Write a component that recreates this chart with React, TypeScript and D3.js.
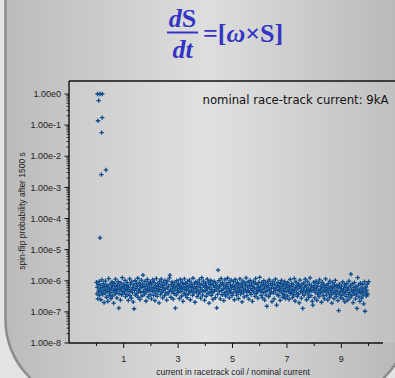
import React from "react";
import * as d3 from "d3";

const W = 395;
const H = 378;

// Tick values
const xMajorTicks = [1, 3, 5, 7, 9];
const xMinorTicks = [0, 2, 4, 6, 8, 10];
const yTickExponents = [0, -1, -2, -3, -4, -5, -6, -7, -8];

// Early (high spin-flip) points: [current, log10 probability]
const highPoints: [number, number][] = [
  [0.04, 0], [0.13, 0], [0.21, 0],
  [0.08, -0.21], [0.055, -0.86], [0.21, -0.76], [0.19, -1.24],
  [0.35, -2.44], [0.18, -2.59], [0.13, -4.62],
];

// Bulk points, [current, log10 probability]
const bulk0: [number, number][] = [
  [0.00,-6.05],[0.02,-6.42],[0.03,-6.21],[0.05,-6.58],[0.06,-6.12],[0.08,-6.33],[0.10,-6.02],[0.11,-6.47],[0.13,-6.26],[0.15,-6.15],
  [0.16,-6.61],[0.18,-6.37],[0.20,-5.97],[0.21,-6.22],[0.23,-6.44],[0.25,-6.09],[0.27,-6.31],[0.28,-6.70],[0.30,-6.18],[0.32,-6.40],
  [0.33,-6.01],[0.35,-6.27],[0.37,-6.53],[0.38,-6.14],[0.40,-6.35],[0.42,-6.66],[0.43,-6.20],[0.45,-5.93],[0.47,-6.46],[0.48,-6.29],
  [0.50,-6.11],[0.52,-6.38],[0.53,-6.57],[0.55,-6.24],[0.57,-6.04],[0.58,-6.49],[0.60,-6.16],[0.62,-6.32],[0.63,-6.72],[0.65,-6.08],
  [0.67,-6.28],[0.68,-6.43],[0.70,-5.95],[0.72,-6.19],[0.73,-6.36],[0.75,-6.55],[0.77,-6.13],[0.78,-6.26],[0.80,-6.03],[0.82,-6.88],
  [0.83,-6.41],[0.85,-6.17],[0.87,-6.30],[0.88,-6.62],[0.90,-6.07],[0.92,-6.23],[0.93,-6.45],[0.95,-5.90],[0.97,-6.34],[0.98,-6.19],
];
const bulk1: [number, number][] = [
  [1.00,-6.12],[1.02,-6.39],[1.03,-6.24],[1.05,-5.99],[1.07,-6.51],[1.08,-6.30],[1.10,-6.16],[1.12,-6.44],[1.13,-6.06],[1.15,-6.27],
  [1.17,-6.63],[1.18,-6.20],[1.20,-6.35],[1.22,-5.94],[1.23,-6.48],[1.25,-6.11],[1.27,-6.29],[1.28,-6.56],[1.30,-6.03],[1.32,-6.38],
  [1.33,-6.22],[1.35,-6.68],[1.37,-6.14],[1.38,-6.90],[1.40,-6.31],[1.42,-6.00],[1.43,-6.46],[1.45,-6.25],[1.47,-6.09],[1.48,-6.41],
  [1.50,-6.18],[1.52,-5.92],[1.53,-6.53],[1.55,-6.33],[1.57,-6.07],[1.58,-6.26],[1.60,-6.60],[1.62,-6.15],[1.63,-6.37],[1.65,-5.98],
  [1.67,-6.21],[1.68,-6.49],[1.70,-6.10],[1.71,-5.82],[1.73,-6.34],[1.75,-6.19],[1.77,-6.43],[1.78,-6.02],[1.80,-6.28],[1.82,-6.65],
  [1.83,-6.13],[1.85,-6.36],[1.87,-5.96],[1.88,-6.24],[1.90,-6.52],[1.92,-6.08],[1.93,-6.32],[1.95,-6.17],[1.97,-6.45],[1.98,-6.04],
];
const bulk2: [number, number][] = [
  [2.00,-6.27],[2.02,-6.58],[2.03,-6.11],[2.05,-6.35],[2.07,-5.97],[2.08,-6.22],[2.10,-6.47],[2.12,-6.05],[2.13,-6.30],[2.15,-6.64],
  [2.17,-6.16],[2.18,-6.40],[2.20,-5.93],[2.22,-6.25],[2.23,-6.50],[2.25,-6.09],[2.27,-6.33],[2.28,-6.19],[2.30,-6.71],[2.32,-6.02],
  [2.33,-6.28],[2.35,-6.44],[2.37,-6.13],[2.38,-5.95],[2.40,-6.37],[2.42,-6.21],[2.43,-6.55],[2.45,-6.06],[2.47,-6.31],[2.48,-6.15],
  [2.50,-6.48],[2.52,-5.99],[2.53,-6.26],[2.55,-6.39],[2.57,-6.10],[2.58,-6.62],[2.60,-6.23],[2.62,-6.01],[2.63,-6.42],[2.65,-6.18],
  [2.67,-6.34],[2.68,-5.91],[2.70,-5.82],[2.72,-6.29],[2.73,-6.53],[2.75,-6.12],[2.77,-6.36],[2.78,-6.04],[2.80,-6.24],[2.82,-6.59],
  [2.83,-6.17],[2.85,-6.41],[2.87,-6.07],[2.88,-6.30],[2.90,-6.88],[2.92,-6.20],[2.93,-6.46],[2.95,-6.00],[2.97,-6.32],[2.98,-6.14],
];
const bulk3: [number, number][] = [
  [3.00,-6.38],[3.02,-6.09],[3.03,-6.25],[3.05,-6.57],[3.07,-6.16],[3.08,-5.96],[3.10,-6.34],[3.12,-6.20],[3.13,-6.49],[3.15,-6.05],
  [3.17,-6.28],[3.18,-6.66],[3.20,-6.12],[3.22,-6.40],[3.23,-5.94],[3.25,-6.23],[3.27,-6.45],[3.28,-6.08],[3.30,-6.31],[3.32,-6.18],
  [3.33,-6.54],[3.35,-6.02],[3.37,-6.27],[3.38,-6.42],[3.40,-6.14],[3.42,-5.98],[3.43,-6.36],[3.45,-6.61],[3.47,-6.21],[3.48,-6.07],
  [3.50,-6.33],[3.52,-6.17],[3.53,-6.47],[3.55,-5.92],[3.57,-6.26],[3.58,-6.39],[3.60,-6.11],[3.62,-6.69],[3.63,-6.24],[3.65,-6.03],
  [3.67,-6.35],[3.68,-6.19],[3.70,-6.51],[3.72,-6.06],[3.73,-6.29],[3.75,-6.43],[3.77,-6.13],[3.78,-5.97],[3.80,-6.37],[3.82,-6.22],
  [3.83,-6.56],[3.85,-6.10],[3.87,-5.90],[3.88,-6.30],[3.90,-6.46],[3.92,-6.15],[3.93,-6.01],[3.95,-6.34],[3.97,-6.63],[3.98,-6.20],
];
const bulk4: [number, number][] = [
  [4.00,-6.08],[4.02,-6.32],[4.03,-6.50],[4.05,-6.17],[4.07,-5.95],[4.08,-6.26],[4.10,-6.41],[4.12,-6.04],[4.14,-6.72],[4.15,-6.22],
  [4.17,-6.36],[4.18,-6.12],[4.20,-5.99],[4.22,-6.47],[4.23,-6.28],[4.25,-6.09],[4.27,-6.38],[4.28,-6.60],[4.30,-6.16],[4.32,-6.02],
  [4.33,-6.33],[4.35,-6.21],[4.37,-6.54],[4.38,-6.07],[4.40,-6.29],[4.42,-6.87],[4.43,-6.14],[4.45,-6.44],[4.47,-5.66],[4.48,-6.24],
  [4.50,-6.00],[4.52,-6.35],[4.53,-6.19],[4.55,-6.58],[4.57,-6.11],[4.58,-5.93],[4.60,-6.31],[4.62,-6.45],[4.63,-6.06],[4.65,-6.27],
  [4.67,-6.15],[4.68,-6.64],[4.70,-6.39],[4.72,-5.97],[4.73,-6.23],[4.75,-6.49],[4.77,-6.10],[4.78,-6.34],[4.80,-6.18],[4.82,-5.92],
  [4.83,-6.42],[4.85,-6.25],[4.87,-6.05],[4.88,-6.55],[4.90,-6.30],[4.92,-6.13],[4.93,-6.37],[4.95,-5.98],[4.97,-6.21],[4.98,-6.48],
];
const bulk5: [number, number][] = [
  [5.00,-6.16],[5.02,-6.40],[5.03,-6.03],[5.05,-6.28],[5.07,-6.61],[5.08,-6.19],[5.10,-5.96],[5.12,-6.34],[5.13,-6.11],[5.15,-6.46],
  [5.17,-6.24],[5.18,-6.05],[5.20,-6.37],[5.22,-6.57],[5.23,-6.14],[5.25,-6.30],[5.27,-5.94],[5.28,-6.22],[5.30,-6.43],[5.32,-6.09],
  [5.33,-6.33],[5.35,-6.68],[5.37,-6.17],[5.38,-6.01],[5.40,-6.39],[5.42,-6.26],[5.43,-6.52],[5.45,-6.07],[5.47,-6.29],[5.48,-6.13],
  [5.50,-5.91],[5.52,-6.35],[5.53,-6.48],[5.55,-6.20],[5.57,-6.04],[5.58,-6.32],[5.60,-6.59],[5.62,-6.15],[5.63,-6.38],[5.65,-5.99],
  [5.67,-6.25],[5.68,-6.44],[5.70,-6.10],[5.72,-6.31],[5.73,-6.66],[5.75,-6.18],[5.77,-6.02],[5.78,-6.36],[5.80,-6.23],[5.82,-6.50],
  [5.83,-6.08],[5.85,-5.93],[5.87,-6.27],[5.88,-6.41],[5.90,-6.12],[5.92,-6.34],[5.93,-6.56],[5.95,-6.21],[5.97,-6.05],[5.98,-6.30],
];
const bulk6: [number, number][] = [
  [6.00,-5.89],[6.02,-6.33],[6.03,-6.18],[6.05,-6.47],[6.07,-6.07],[6.08,-6.28],[6.10,-6.55],[6.12,-6.14],[6.13,-6.38],[6.15,-6.00],
  [6.17,-6.24],[6.18,-6.62],[6.20,-6.11],[6.22,-6.35],[6.23,-6.46],[6.25,-6.20],[6.26,-6.82],[6.28,-6.04],[6.30,-6.31],[6.32,-6.16],
  [6.33,-6.51],[6.35,-5.97],[6.37,-6.27],[6.38,-6.42],[6.40,-6.09],[6.42,-6.36],[6.43,-6.23],[6.45,-6.67],[6.47,-6.13],[6.48,-6.02],
  [6.50,-6.39],[6.52,-6.25],[6.53,-6.58],[6.55,-6.10],[6.57,-6.32],[6.58,-5.95],[6.60,-6.21],[6.62,-6.78],[6.63,-6.44],[6.65,-6.15],
  [6.67,-6.29],[6.68,-6.05],[6.70,-6.48],[6.72,-6.19],[6.73,-6.34],[6.75,-6.63],[6.77,-6.08],[6.78,-6.26],[6.80,-5.99],[6.82,-6.40],
  [6.83,-6.17],[6.85,-6.53],[6.87,-6.30],[6.88,-6.12],[6.90,-6.45],[6.92,-6.03],[6.93,-6.24],[6.95,-6.57],[6.97,-6.35],[6.98,-6.14],
];
const bulk7: [number, number][] = [
  [7.00,-6.22],[7.02,-6.49],[7.03,-6.06],[7.05,-6.33],[7.07,-6.16],[7.08,-6.60],[7.10,-6.27],[7.12,-5.96],[7.13,-6.41],[7.15,-6.19],
  [7.17,-6.37],[7.18,-6.09],[7.20,-6.54],[7.22,-6.28],[7.23,-6.13],[7.25,-6.45],[7.27,-5.93],[7.28,-6.31],[7.30,-6.65],[7.32,-6.21],
  [7.33,-6.04],[7.35,-6.38],[7.37,-6.17],[7.38,-6.50],[7.40,-6.26],[7.42,-6.10],[7.43,-6.43],[7.45,-6.71],[7.47,-6.18],[7.48,-5.98],
  [7.50,-6.34],[7.52,-6.23],[7.53,-6.56],[7.55,-6.12],[7.57,-6.39],[7.58,-6.89],[7.60,-6.29],[7.62,-6.07],[7.63,-6.47],[7.65,-6.20],
  [7.67,-5.95],[7.68,-6.36],[7.70,-6.15],[7.72,-6.61],[7.73,-6.30],[7.75,-6.02],[7.77,-6.42],[7.78,-6.24],[7.80,-6.53],[7.82,-6.11],
  [7.83,-6.35],[7.85,-5.91],[7.87,-6.27],[7.88,-6.48],[7.90,-6.16],[7.92,-6.32],[7.93,-6.66],[7.95,-6.78],[7.97,-6.21],[7.98,-6.05],
];
const bulk8: [number, number][] = [
  [8.00,-6.30],[8.02,-6.55],[8.03,-6.14],[8.05,-6.38],[8.07,-6.02],[8.08,-6.26],[8.10,-6.63],[8.12,-6.19],[8.13,-6.44],[8.15,-6.08],
  [8.17,-6.33],[8.18,-6.51],[8.20,-5.97],[8.22,-6.29],[8.23,-6.40],[8.25,-6.17],[8.27,-6.69],[8.28,-6.24],[8.30,-6.05],[8.32,-6.36],
  [8.33,-6.48],[8.35,-6.12],[8.37,-6.31],[8.38,-6.58],[8.40,-6.21],[8.42,-5.94],[8.43,-6.35],[8.45,-6.46],[8.47,-6.15],[8.48,-6.27],
  [8.50,-6.62],[8.52,-6.09],[8.53,-6.39],[8.55,-6.23],[8.57,-6.53],[8.58,-6.01],[8.60,-6.32],[8.62,-6.18],[8.63,-6.45],[8.65,-6.72],
  [8.67,-6.26],[8.68,-6.06],[8.70,-6.37],[8.72,-6.20],[8.73,-6.57],[8.75,-6.13],[8.77,-6.41],[8.78,-5.99],[8.80,-6.30],[8.82,-6.50],
  [8.83,-6.16],[8.85,-6.34],[8.87,-6.64],[8.88,-6.22],[8.90,-6.96],[8.92,-6.43],[8.93,-6.11],[8.95,-6.36],[8.97,-6.55],[8.98,-6.25],
];
const bulk9: [number, number][] = [
  [9.00,-6.18],[9.02,-6.47],[9.03,-6.33],[9.05,-6.04],[9.07,-6.59],[9.08,-6.27],[9.10,-6.41],[9.12,-6.13],[9.13,-6.68],[9.15,-6.36],
  [9.17,-6.21],[9.18,-6.50],[9.20,-6.09],[9.22,-6.31],[9.23,-6.62],[9.25,-6.24],[9.27,-6.44],[9.28,-6.01],[9.30,-6.38],[9.32,-6.55],
  [9.33,-6.16],[9.35,-5.79],[9.37,-6.29],[9.38,-6.48],[9.40,-6.10],[9.42,-6.35],[9.43,-6.70],[9.45,-6.22],[9.47,-6.42],[9.48,-6.06],
  [9.50,-6.32],[9.52,-6.58],[9.53,-6.19],[9.55,-6.45],[9.57,-6.89],[9.58,-6.27],[9.60,-5.90],[9.62,-6.37],[9.63,-6.14],[9.65,-6.52],
  [9.67,-6.30],[9.68,-6.66],[9.70,-6.08],[9.72,-6.40],[9.73,-6.23],[9.75,-6.56],[9.77,-6.34],[9.78,-6.12],[9.80,-6.46],[9.82,-6.74],
  [9.83,-6.26],[9.85,-6.03],[9.87,-6.98],[9.88,-6.39],[9.90,-6.20],[9.92,-6.49],[9.93,-6.31],[9.95,-6.11],[9.97,-6.43],[10.00,-6.03],
];

const allPoints = [
  ...bulk0, ...bulk1, ...bulk2, ...bulk3, ...bulk4,
  ...bulk5, ...bulk6, ...bulk7, ...bulk8, ...bulk9, ...highPoints,
];

const AX_L = 69;
const AX_R = 383;
const AX_B = 343;
const FRAME_T = 81;

const x = d3.scaleLinear().domain([-1.01, 10.53]).range([AX_L, AX_R]);
const y = d3.scaleLog().domain([1e-8, 1]).range([AX_B, 94]);

const minorY: number[] = [];
for (let e = -8; e < 0; e++) {
  for (let m = 2; m <= 9; m++) minorY.push(m * Math.pow(10, e));
}

const fmtExp = (e: number) => `1.00e${e}`;
const markColor = "#0b4a8c";
const blue = "#3434c4";

export default function App() {
  return (
    <svg
      width={W}
      height={H}
      style={{ position: "absolute", left: 0, top: 0, display: "block" }}
      fontFamily="'Liberation Sans', Arial, sans-serif"
    >
      <defs>
        <linearGradient id="panelGrad" x1="0" x2="1" y1="0" y2="0">
          <stop offset="0" stopColor="#bbbbbb" />
          <stop offset="0.5" stopColor="#dedede" />
          <stop offset="1" stopColor="#b7b7b7" />
        </linearGradient>
      </defs>
      <rect x={0} y={0} width={W} height={H} fill="#e3e3e3" />
      <rect
        x={5.5}
        y={-120}
        width={403}
        height={520}
        rx={80}
        ry={80}
        fill="url(#panelGrad)"
        stroke="#8c8c8c"
        strokeWidth={2.5}
      />

      {/* formula */}
      <g fill={blue} fontFamily="'Liberation Serif', 'Times New Roman', serif" fontWeight="bold" fontSize={26}>
        <text x={182.5} y={27} textAnchor="middle">
          <tspan fontStyle="italic">d</tspan>
          <tspan>S</tspan>
        </text>
        <rect x={167} y={31.5} width={31} height={2} />
        <text x={182.5} y={58} textAnchor="middle" fontStyle="italic">dt</text>
        <text x={203} y={42}>
          <tspan>=[</tspan>
          <tspan fontStyle="italic">ω</tspan>
          <tspan>×S]</tspan>
        </text>
      </g>

      {/* plot area */}
      <rect x={AX_L} y={FRAME_T} width={W - AX_L} height={AX_B - FRAME_T} fill="#ffffff" opacity={0.1} />
      <line x1={AX_L} x2={W} y1={FRAME_T} y2={FRAME_T} stroke="#111" strokeWidth={1.4} />

      {/* points */}
      <g stroke={markColor} strokeWidth={1.3}>
        {allPoints.map(([cx, lp], i) => (
          <path
            key={i}
            d="M-2.2,0H2.2M0,-2.2V2.2"
            transform={`translate(${x(cx)},${y(Math.pow(10, lp))})`}
          />
        ))}
      </g>

      {/* y axis */}
      <line x1={AX_L} x2={AX_L} y1={FRAME_T} y2={AX_B} stroke="#111" strokeWidth={1.4} />
      {minorY.map((v, i) => (
        <line key={i} x1={AX_L - 2.5} x2={AX_L} y1={y(v)} y2={y(v)} stroke="#111" strokeWidth={0.8} />
      ))}
      {yTickExponents.map((e) => (
        <g key={e}>
          <line x1={AX_L - 4.5} x2={AX_L} y1={y(Math.pow(10, e))} y2={y(Math.pow(10, e))} stroke="#111" strokeWidth={1} />
          <text
            x={61}
            y={y(Math.pow(10, e))}
            dy="0.35em"
            textAnchor="end"
            fontSize={9}
            fill="#222"
          >
            {fmtExp(e)}
          </text>
        </g>
      ))}
      <text
        transform={`translate(25,211) rotate(-90)`}
        textAnchor="middle"
        fontSize={8.5}
        fill="#222"
      >
        spin-flip probability after 1500 s
      </text>

      {/* x axis */}
      <line x1={AX_L} x2={AX_R} y1={AX_B} y2={AX_B} stroke="#111" strokeWidth={1.4} />
      {xMinorTicks.map((v) => (
        <line key={v} x1={x(v)} x2={x(v)} y1={AX_B} y2={AX_B + 3} stroke="#111" strokeWidth={1} />
      ))}
      {xMajorTicks.map((v) => (
        <g key={v}>
          <line x1={x(v)} x2={x(v)} y1={AX_B} y2={AX_B + 5} stroke="#111" strokeWidth={1} />
          <text x={x(v)} y={362} textAnchor="middle" fontSize={9} fill="#222">
            {v}
          </text>
        </g>
      ))}
      <text x={233} y={375} textAnchor="middle" fontSize={8.5} fill="#222">
        current in racetrack coil / nominal current
      </text>

      {/* annotation */}
      <text
        x={388.5}
        y={104}
        textAnchor="end"
        fontSize={11.7}
        fontFamily="'DejaVu Sans', Verdana, sans-serif"
        fill="#111"
      >
        nominal race-track current: 9kA
      </text>
    </svg>
  );
}
